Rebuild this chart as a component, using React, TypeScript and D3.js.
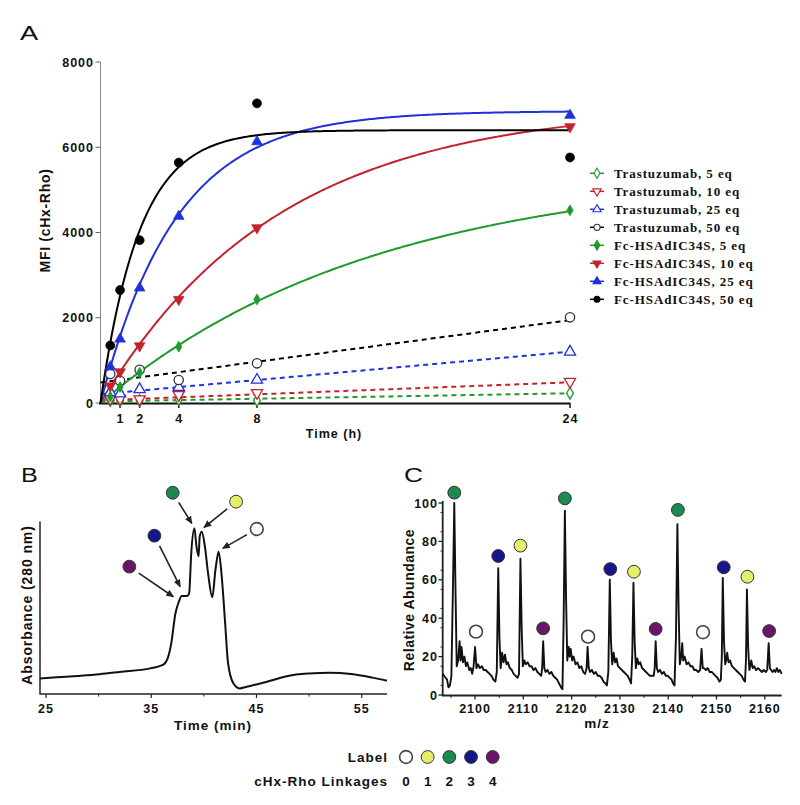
import React from 'react';
import * as d3 from 'd3';

// ---------- Panel A data ----------
const times = [0.5, 1, 2, 4, 8, 24];
const trastuzumab5 = [60, 50, 60, 80, 60, 230];
const trastuzumab10 = [100, 100, 90, 190, 240, 500];
const trastuzumab25 = [250, 220, 320, 370, 540, 1200];
const trastuzumab50 = [680, 520, 780, 540, 930, 2010];
const fc5 = [150, 375, 710, 1320, 2430, 4520];
const fc10 = [400, 730, 1340, 2430, 4110, 6480];
const fc25 = [850, 1500, 2700, 4380, 6130, 6750];
const fc50 = [1350, 2650, 3820, 5640, 7030, 5760];
// fitted curves (one-phase association for Fc-HSAdIC34S, linear for trastuzumab)
const fcPlateau = [5500, 7000, 6850, 6400];
const fcRate = [0.071, 0.11, 0.26, 0.5];
const trIntercept = [36, 63, 207, 480];
const trSlope = [8, 17.6, 41.5, 61];
const equivalents = ['5 eq', '10 eq', '25 eq', '50 eq'];
const xTicksA = [1, 2, 4, 8, 24];
const yTicksA = [0, 2000, 4000, 6000, 8000];

// ---------- Panel B data (time min, absorbance a.u.) ----------
const chromTime = [24.43, 26, 28, 30.1, 32, 34.9, 36.1, 36.6, 36.9, 37.3, 37.6, 37.9, 38.4, 38.6, 38.8, 39.1, 39.3, 39.5, 39.6, 39.8, 40.1, 40.4, 40.8, 41.1, 41.4, 41.7, 42.0, 42.3, 42.8, 43.4, 44, 45, 46, 48, 50, 52, 54, 56, 57.4];
const chromAbs = [8.5, 9.2, 10, 11, 12.3, 14.4, 16.4, 21, 29, 46.6, 53, 56.7, 56.7, 58.3, 81.7, 96.3, 85.6, 80, 91.4, 94.3, 85.6, 70, 56, 72, 82.6, 68, 42.7, 17.4, 5.7, 2.7, 3.5, 5, 6.6, 10, 11.4, 11.9, 11.1, 9, 7.2];
const chromTicks = [25, 35, 45, 55];
const chromMinorTicks = [30, 40, 50];
// label circles: linkage, circle (time, abs), arrow tip (time, abs)
const chromLabelLinkage = [4, 3, 2, 1, 0];
const chromLabelTime = [32.92, 35.3, 37.04, 43.06, 45.03];
const chromLabelAbs = [73.9, 92, 117.1, 111.9, 95.9];
const chromArrowTime = [37.1, 37.74, 38.85, 40.02, 41.8];
const chromArrowAbs = [56.3, 62.2, 99.2, 96.9, 84.6];

// ---------- Panel C data (m/z, relative abundance) ----------
const spectrum: [number, number][] = [
  [2093.3, 11], [2093.6, 10], [2093.9, 9], [2094.2, 8], [2094.5, 4], [2094.8, 5], [2095.1, 10], [2095.45, 60], [2095.7, 100], [2095.95, 55], [2096.2, 15], [2096.5, 18], [2096.8, 28], [2097.0, 18], [2097.2, 25], [2097.5, 17], [2097.8, 20], [2098.1, 15], [2098.4, 17], [2098.8, 13], [2099.1, 14], [2099.4, 11], [2099.7, 15], [2100.0, 25], [2100.3, 14], [2100.6, 16], [2101.0, 14], [2101.4, 15], [2101.8, 13], [2102.2, 13], [2102.6, 12], [2103.0, 11], [2103.4, 10], [2103.8, 8], [2104.2, 7], [2104.5, 12], [2104.8, 66], [2105.05, 30], [2105.3, 14], [2105.6, 22], [2105.9, 17], [2106.2, 21], [2106.5, 16], [2106.8, 17], [2107.2, 14], [2107.6, 13], [2108.0, 11], [2108.4, 10], [2108.8, 9], [2109.1, 11], [2109.4, 71], [2109.65, 35], [2109.9, 15], [2110.2, 18], [2110.5, 16], [2110.9, 17], [2111.3, 15], [2111.7, 15], [2112.1, 13], [2112.5, 14], [2112.9, 12], [2113.3, 11], [2113.7, 10], [2113.9, 14], [2114.1, 28], [2114.35, 14], [2114.6, 12], [2115.0, 13], [2115.4, 11], [2115.8, 12], [2116.2, 10], [2116.6, 9], [2117.0, 8], [2117.4, 6], [2117.8, 4], [2118.1, 3], [2118.35, 40], [2118.6, 96], [2118.85, 50], [2119.1, 18], [2119.4, 25], [2119.6, 20], [2119.8, 24], [2120.1, 18], [2120.4, 20], [2120.8, 16], [2121.2, 17], [2121.6, 14], [2122.0, 15], [2122.4, 12], [2122.8, 11], [2123.1, 14], [2123.3, 25], [2123.55, 14], [2123.8, 12], [2124.2, 13], [2124.6, 11], [2125.0, 12], [2125.4, 10], [2125.8, 10], [2126.2, 9], [2126.6, 7], [2127.0, 6], [2127.3, 5], [2127.6, 12], [2127.9, 60], [2128.15, 28], [2128.4, 16], [2128.7, 22], [2129.0, 17], [2129.3, 19], [2129.6, 15], [2130.0, 14], [2130.4, 13], [2130.8, 12], [2131.2, 11], [2131.6, 10], [2132.0, 8], [2132.3, 6], [2132.55, 20], [2132.8, 58.5], [2133.05, 28], [2133.3, 14], [2133.6, 19], [2133.9, 16], [2134.2, 17], [2134.6, 14], [2135.0, 13], [2135.4, 12], [2135.8, 11], [2136.2, 10], [2136.6, 10], [2137.0, 10], [2137.2, 14], [2137.4, 28], [2137.65, 14], [2137.9, 12], [2138.3, 13], [2138.7, 11], [2139.1, 12], [2139.5, 10], [2139.9, 10], [2140.3, 9], [2140.7, 8], [2141.0, 6], [2141.3, 5], [2141.6, 30], [2141.9, 89], [2142.15, 45], [2142.4, 16], [2142.7, 20], [2142.9, 27], [2143.1, 18], [2143.4, 20], [2143.8, 16], [2144.2, 17], [2144.6, 15], [2145.0, 15], [2145.4, 13], [2145.8, 13], [2146.2, 12], [2146.6, 13], [2146.9, 24], [2147.15, 14], [2147.4, 14], [2147.8, 13], [2148.2, 14], [2148.6, 12], [2149.0, 12], [2149.4, 11], [2149.8, 10], [2150.2, 9], [2150.6, 7], [2150.9, 8], [2151.1, 20], [2151.3, 61], [2151.55, 28], [2151.8, 16], [2152.0, 18], [2152.2, 22], [2152.5, 17], [2152.8, 18], [2153.2, 15], [2153.6, 14], [2154.0, 13], [2154.4, 12], [2154.8, 11], [2155.2, 10], [2155.6, 8], [2155.9, 7], [2156.1, 18], [2156.3, 55], [2156.55, 25], [2156.8, 13], [2157.0, 15], [2157.2, 18], [2157.5, 14], [2157.8, 15], [2158.2, 13], [2158.6, 14], [2159.0, 13], [2159.4, 12], [2159.8, 13], [2160.2, 12], [2160.5, 13], [2160.8, 27], [2161.05, 14], [2161.3, 13], [2161.6, 12], [2161.9, 13], [2162.2, 12], [2162.5, 14], [2162.8, 12], [2163.1, 13], [2163.5, 11],
];
const peakLabelMz = [2095.7, 2100.2, 2104.8, 2109.4, 2114.1, 2118.6, 2123.4, 2128.0, 2132.9, 2137.4, 2142.0, 2147.2, 2151.5, 2156.4, 2160.9];
const peakLabelAb = [105.4, 33, 72.4, 77.8, 34.7, 102.4, 30.4, 65.6, 64.2, 34.4, 96.4, 32.7, 66.5, 61.6, 33.3];
const peakLabelLinkage = [2, 0, 3, 1, 4, 2, 0, 3, 1, 4, 2, 0, 3, 1, 4];
const mzTicks = [2100, 2110, 2120, 2130, 2140, 2150, 2160];
const abTicks = [0, 20, 40, 60, 80, 100];

// ---------- Legend (linkages) ----------
const linkages = [0, 1, 2, 3, 4];
const linkageColors = ['#ffffff', '#e3ee6a', '#1c8a4f', '#15168a', '#6a1668'];

const SANS = "'Liberation Sans', Arial, Helvetica, sans-serif";
const SERIF = "'Liberation Serif', 'Times New Roman', serif";
const seriesColors = ['#1f9a2e', '#c4232d', '#1f30dc', '#000000'];

function markerPath(shape: number, size: number) {
  const types = [d3.symbolDiamond, d3.symbolTriangle, d3.symbolTriangle, d3.symbolCircle];
  return d3.symbol().type(types[shape]).size(size)() as string;
}
const markerSizes = [34, 48, 48, 62];
const markerRot = [0, 180, 0, 0];

export default function App() {
  // ---------- Panel A ----------
  const xA = d3.scaleLinear().domain([0, 24]).range([100.5, 570]);
  const yA = d3.scaleLinear().domain([0, 8000]).range([403, 62]);
  const trData = [trastuzumab5, trastuzumab10, trastuzumab25, trastuzumab50];
  const fcData = [fc5, fc10, fc25, fc50];
  const fitT = d3.range(0, 24.001, 0.1);
  const lineA = d3.line<[number, number]>().x(d => xA(d[0])).y(d => yA(d[1]));

  const legendItems = [
    ...equivalents.map((e, i) => ({ label: `Trastuzumab, ${e}`, i, open: true })),
    ...equivalents.map((e, i) => ({ label: `Fc-HSAdIC34S, ${e}`, i, open: false })),
  ];
  const legendY = d3.scaleLinear().domain([0, 7]).range([173.3, 299.3]);

  // ---------- Panel B ----------
  const xB = d3.scaleLinear().domain([24.43, 57.4]).range([40, 387]);
  const yB = d3.scaleLinear().domain([0, 100]).range([693, 522]);
  const lineB = d3.line<number>().x((_, i) => xB(chromTime[i])).y(d => yB(d)).curve(d3.curveMonotoneX);

  // ---------- Panel C ----------
  const xC = d3.scaleLinear().domain([2093.3, 2163.5]).range([442.7, 781.7]);
  const yC = d3.scaleLinear().domain([0, 100]).range([695, 503]);
  const lineC = d3.line<[number, number]>().x(d => xC(d[0])).y(d => yC(d[1]));

  const legX = d3.scalePoint<number>().domain(linkages).range([406, 492.7]);

  const tickText = { fontFamily: SANS, fontWeight: 700, fontSize: 12.5, letterSpacing: 1, fill: '#111' } as const;
  const r = 6.4;

  return (
    <svg width={800} height={805} style={{ position: 'absolute', left: 0, top: 0, background: '#fff' }}>
      <defs>
        <marker id="arrowhead" markerWidth={8} markerHeight={7} refX={7} refY={3.5} orient="auto" markerUnits="userSpaceOnUse">
          <path d="M0,0 L8,3.5 L0,7 z" fill="#222" />
        </marker>
      </defs>

      {/* ===== Panel A ===== */}
      <text transform="translate(20,40) scale(1.3,1)" fontFamily={SANS} fontSize={21} fill="#111">A</text>
      <line x1={100.5} x2={100.5} y1={62} y2={403} stroke="#888" strokeWidth={1} />
      {yTicksA.map(t => (
        <g key={t}>
          <line x1={95.5} x2={100.5} y1={yA(t)} y2={yA(t)} stroke="#666" strokeWidth={1} />
          <text x={94} y={yA(t) + 4.5} textAnchor="end" {...tickText}>{t}</text>
        </g>
      ))}
      <text transform={`translate(50,${yA(4000) - 12}) rotate(-90)`} textAnchor="middle" fontFamily={SANS} fontWeight={700} fontSize={14} letterSpacing={0.7} fill="#111">MFI (cHx-Rho)</text>
      <line x1={99} x2={570.5} y1={403.5} y2={403.5} stroke="#111" strokeWidth={1.8} />
      {xTicksA.map(t => (
        <g key={t}>
          <line x1={xA(t)} x2={xA(t)} y1={403.5} y2={408} stroke="#111" strokeWidth={1.5} />
          <text x={xA(t) + 0.5} y={422.5} textAnchor="middle" {...tickText}>{t}</text>
        </g>
      ))}
      <text x={334} y={438} textAnchor="middle" {...tickText}>Time (h)</text>

      {/* trastuzumab dashed fits */}
      {trIntercept.map((b, i) => (
        <path key={'tf' + i} d={lineA(fitT.map(t => [t, b + trSlope[i] * t]) as [number, number][]) || ''}
          fill="none" stroke={seriesColors[i]} strokeWidth={2} strokeDasharray="5,4" />
      ))}
      {/* Fc fits */}
      {fcPlateau.map((p, i) => (
        <path key={'ff' + i} d={lineA(fitT.map(t => [t, p * (1 - Math.exp(-fcRate[i] * t))]) as [number, number][]) || ''}
          fill="none" stroke={seriesColors[i]} strokeWidth={2} />
      ))}
      {/* markers */}
      {trData.map((arr, i) => arr.map((v, j) => (
        <path key={`tm${i}-${j}`} d={markerPath(i, markerSizes[i] + 6)}
          transform={`translate(${xA(times[j])},${yA(v)}) rotate(${markerRot[i]})`}
          fill="#fff" stroke={i === 3 ? '#333' : seriesColors[i]} strokeWidth={1.3} />
      )))}
      {fcData.map((arr, i) => arr.map((v, j) => (
        <path key={`fm${i}-${j}`} d={markerPath(i, markerSizes[i])}
          transform={`translate(${xA(times[j])},${yA(v)}) rotate(${markerRot[i]})`}
          fill={seriesColors[i]} stroke={seriesColors[i]} strokeWidth={0.8} />
      )))}
      {/* legend A */}
      {legendItems.map((it, k) => {
        const y = legendY(k);
        const c = seriesColors[it.i];
        return (
          <g key={'lg' + k}>
            <line x1={590} x2={604} y1={y} y2={y} stroke={c} strokeWidth={1.5} />
            <path d={markerPath(it.i, it.open ? 30 : 28)} transform={`translate(597,${y}) rotate(${markerRot[it.i]})`}
              fill={it.open ? '#fff' : c} stroke={it.open && it.i === 3 ? '#333' : c} strokeWidth={1.1} />
            <text x={614} y={y + 4.5} fontFamily={SERIF} fontWeight={700} fontSize={13} letterSpacing={0.9} fill="#111">{it.label}</text>
          </g>
        );
      })}

      {/* ===== Panel B ===== */}
      <text transform="translate(21,482) scale(1.2,1)" fontFamily={SANS} fontSize={21} fill="#111">B</text>
      <line x1={40} x2={40} y1={521.5} y2={694} stroke="#222" strokeWidth={1.5} />
      <line x1={39.5} x2={387} y1={694} y2={694} stroke="#222" strokeWidth={1.5} />
      {chromTicks.map(t => (
        <g key={'bt' + t}>
          <line x1={xB(t)} x2={xB(t)} y1={694} y2={698} stroke="#222" strokeWidth={1.2} />
          <text x={xB(t)} y={713} textAnchor="middle" {...tickText}>{t}</text>
        </g>
      ))}
      {chromMinorTicks.map(t => (
        <line key={'bm' + t} x1={xB(t)} x2={xB(t)} y1={694} y2={696.5} stroke="#222" strokeWidth={1} />
      ))}
      <text x={213} y={730} textAnchor="middle" {...tickText} fontSize={13.5}>Time (min)</text>
      <text transform="translate(32,605) rotate(-90)" textAnchor="middle" fontFamily={SANS} fontWeight={700} fontSize={14} letterSpacing={0.9} fill="#111">Absorbance (280 nm)</text>
      <path d={lineB(chromAbs) || ''} fill="none" stroke="#111" strokeWidth={2} />
      {chromLabelLinkage.map((lk, i) => {
        const cx = xB(chromLabelTime[i]);
        const cy = yB(chromLabelAbs[i]);
        const tx = xB(chromArrowTime[i]);
        const ty = yB(chromArrowAbs[i]);
        const dx = tx - cx, dy = ty - cy;
        const len = Math.hypot(dx, dy);
        const sx = cx + (dx / len) * (r + 5);
        const sy = cy + (dy / len) * (r + 5);
        return (
          <g key={'bl' + i}>
            <line x1={sx} y1={sy} x2={tx} y2={ty} stroke="#222" strokeWidth={1.6} markerEnd="url(#arrowhead)" />
            <circle cx={cx} cy={cy} r={r} fill={linkageColors[lk]} stroke={lk === 0 ? '#444' : '#333'} strokeWidth={lk === 0 ? 1.6 : 1} />
          </g>
        );
      })}

      {/* ===== Panel C ===== */}
      <text transform="translate(404,482) scale(1.25,1)" fontFamily={SANS} fontSize={21} fill="#111">C</text>
      <line x1={442.7} x2={442.7} y1={501} y2={695.5} stroke="#222" strokeWidth={1.8} />
      <line x1={442} x2={781.7} y1={695.5} y2={695.5} stroke="#222" strokeWidth={1.8} />
      {abTicks.map(t => (
        <g key={'ct' + t}>
          <line x1={438.5} x2={442.7} y1={yC(t)} y2={yC(t)} stroke="#222" strokeWidth={1.3} />
          <text x={438} y={yC(t) + 4.5} textAnchor="end" {...tickText}>{t}</text>
        </g>
      ))}
      {d3.range(5, 100, 10).map(t => (
        <line key={'cm' + t} x1={440.5} x2={442.7} y1={yC(t)} y2={yC(t)} stroke="#222" strokeWidth={1} />
      ))}
      {mzTicks.map(t => (
        <g key={'cx' + t}>
          <line x1={xC(t)} x2={xC(t)} y1={695.5} y2={699.5} stroke="#222" strokeWidth={1.3} />
          <text x={xC(t)} y={713} textAnchor="middle" {...tickText}>{t}</text>
        </g>
      ))}
      {d3.range(2095, 2165, 5).filter(t => t % 10 !== 0).map(t => (
        <line key={'cxm' + t} x1={xC(t)} x2={xC(t)} y1={695.5} y2={698} stroke="#222" strokeWidth={1} />
      ))}
      <text x={597} y={728} textAnchor="middle" {...tickText} fontSize={13.5}>m/z</text>
      <text transform="translate(414,600) rotate(-90)" textAnchor="middle" fontFamily={SANS} fontWeight={700} fontSize={14} letterSpacing={0.5} fill="#111">Relative Abundance</text>
      <path d={lineC(spectrum) || ''} fill="none" stroke="#111" strokeWidth={1.9} strokeLinejoin="round" />
      {peakLabelLinkage.map((lk, i) => (
        <circle key={'pl' + i} cx={xC(peakLabelMz[i])} cy={yC(peakLabelAb[i])} r={r}
          fill={linkageColors[lk]} stroke={lk === 0 ? '#444' : '#333'} strokeWidth={lk === 0 ? 1.6 : 1} />
      ))}

      {/* ===== Linkage legend ===== */}
      <text x={388} y={761.5} textAnchor="end" {...tickText} fontSize={13.5}>Label</text>
      <text x={388} y={785.5} textAnchor="end" {...tickText} fontSize={13.5}>cHx-Rho Linkages</text>
      {linkages.map(l => (
        <g key={'lk' + l}>
          <circle cx={legX(l)} cy={757} r={r} fill={linkageColors[l]} stroke={l === 0 ? '#444' : '#333'} strokeWidth={l === 0 ? 1.6 : 1} />
          <text x={(legX(l) as number) + 0.5} y={785.5} textAnchor="middle" {...tickText} fontSize={13.5}>{l}</text>
        </g>
      ))}
    </svg>
  );
}
